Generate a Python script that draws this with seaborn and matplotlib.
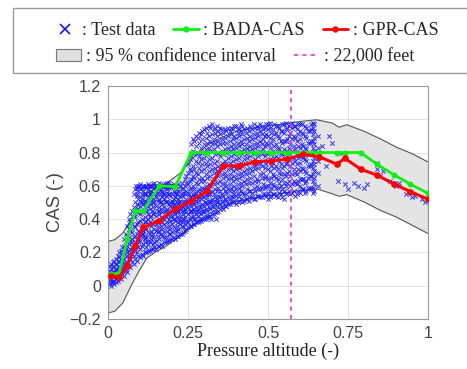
import matplotlib
matplotlib.use("Agg")
import matplotlib.pyplot as plt
from matplotlib.lines import Line2D
from matplotlib.patches import Patch, Rectangle
import seaborn as sns

# ---------------------------------------------------------------
# Data
# ---------------------------------------------------------------
alt_x = [0.01, 0.035, 0.06, 0.085, 0.11, 0.16, 0.21, 0.26, 0.31, 0.36, 0.41, 0.46,
         0.51, 0.56, 0.61, 0.66, 0.715, 0.74, 0.79, 0.84, 0.895, 0.945, 1.0]
gpr_cas = [0.06, 0.05, 0.12, 0.24, 0.35, 0.39, 0.46, 0.51, 0.57, 0.72, 0.72, 0.745,
           0.75, 0.76, 0.79, 0.775, 0.73, 0.765, 0.70, 0.665, 0.61, 0.565, 0.52]
bada_cas = [0.07, 0.075, 0.28, 0.45, 0.45, 0.60, 0.595, 0.80, 0.80, 0.80, 0.80, 0.80,
            0.80, 0.80, 0.80, 0.80, 0.80, 0.80, 0.80, 0.73, 0.665, 0.61, 0.555]

band_x = [0.0, 0.02, 0.045, 0.07, 0.095, 0.12, 0.15, 0.18, 0.2, 0.225, 0.25, 0.28,
          0.31, 0.35, 0.4, 0.45, 0.5, 0.55, 0.6, 0.65, 0.7, 0.72, 0.745, 0.8,
          0.85, 0.9, 0.95, 1.0]
band_hi = [0.27, 0.28, 0.32, 0.40, 0.50, 0.56, 0.59, 0.62, 0.645, 0.68, 0.74, 0.80,
           0.85, 0.89, 0.93, 0.95, 0.965, 0.975, 0.99, 1.0, 0.98, 0.955, 0.97, 0.93,
           0.885, 0.835, 0.795, 0.745]
band_lo = [-0.16, -0.15, -0.10, 0.0, 0.09, 0.17, 0.21, 0.24, 0.27, 0.30, 0.34, 0.385,
           0.43, 0.475, 0.51, 0.53, 0.545, 0.56, 0.575, 0.585, 0.555, 0.54, 0.55, 0.505,
           0.455, 0.415, 0.365, 0.315]

feet_22000 = 0.571

# test data, column by column (x position, y values)
col_x = [0.005, 0.015, 0.025, 0.035, 0.045, 0.055, 0.065, 0.075, 0.085, 0.095,
         0.105, 0.115, 0.125, 0.135, 0.145, 0.155, 0.165, 0.175, 0.185, 0.195,
         0.205, 0.215, 0.225, 0.235, 0.245, 0.255, 0.265, 0.275, 0.285, 0.295,
         0.305, 0.315, 0.325, 0.335, 0.345, 0.355, 0.365, 0.375, 0.385, 0.395,
         0.405, 0.415, 0.425, 0.435, 0.445, 0.455, 0.465, 0.475, 0.485, 0.495,
         0.505, 0.515, 0.525, 0.535, 0.545, 0.555, 0.565, 0.575, 0.585, 0.595,
         0.605, 0.615, 0.625, 0.635, 0.645, 0.655]
col_y = [
    [0.01, 0.03, 0.05, 0.07, 0.09, 0.04, 0.12],
    [0.02, 0.06, 0.08, 0.11, 0.03, 0.14, 0.05],
    [0.04, 0.07, 0.10, 0.13, 0.02, 0.16, 0.09],
    [0.05, 0.09, 0.12, 0.17, 0.08, 0.20, 0.14],
    [0.07, 0.11, 0.15, 0.19, 0.23, 0.10, 0.13],
    [0.09, 0.14, 0.18, 0.22, 0.27, 0.12, 0.31],
    [0.12, 0.17, 0.21, 0.25, 0.29, 0.34, 0.19, 0.40],
    [0.14, 0.19, 0.23, 0.28, 0.32, 0.37, 0.26, 0.45],
    [0.16, 0.21, 0.26, 0.30, 0.35, 0.42, 0.50, 0.58, 0.24],
    [0.18, 0.23, 0.28, 0.33, 0.38, 0.46, 0.52, 0.57, 0.60, 0.27],
    [0.19, 0.24, 0.29, 0.34, 0.40, 0.45, 0.50, 0.55, 0.59, 0.31, 0.36],
    [0.20, 0.26, 0.30, 0.35, 0.41, 0.47, 0.51, 0.56, 0.60, 0.28, 0.38],
    [0.21, 0.27, 0.32, 0.37, 0.43, 0.48, 0.53, 0.58, 0.61, 0.25, 0.40],
    [0.22, 0.28, 0.33, 0.36, 0.42, 0.49, 0.54, 0.57, 0.60, 0.30],
    [0.23, 0.29, 0.34, 0.39, 0.44, 0.50, 0.55, 0.59, 0.62, 0.26],
    [0.24, 0.30, 0.35, 0.38, 0.45, 0.51, 0.56, 0.60, 0.32],
    [0.25, 0.31, 0.36, 0.41, 0.46, 0.50, 0.55, 0.58, 0.61],
    [0.26, 0.32, 0.37, 0.40, 0.47, 0.52, 0.55, 0.60, 0.29],
    [0.27, 0.33, 0.38, 0.43, 0.46, 0.51, 0.56, 0.59, 0.62],
    [0.28, 0.34, 0.39, 0.42, 0.48, 0.50, 0.54, 0.60, 0.31],
    [0.29, 0.35, 0.40, 0.44, 0.49, 0.52, 0.57, 0.61],
    [0.30, 0.36, 0.41, 0.45, 0.50, 0.55, 0.58, 0.33],
    [0.31, 0.37, 0.42, 0.46, 0.51, 0.54, 0.60, 0.39],
    [0.32, 0.38, 0.43, 0.47, 0.50, 0.56, 0.59, 0.35],
    [0.34, 0.39, 0.44, 0.48, 0.52, 0.57, 0.62, 0.66],
    [0.36, 0.40, 0.45, 0.49, 0.53, 0.58, 0.63, 0.70, 0.76],
    [0.37, 0.42, 0.46, 0.50, 0.55, 0.60, 0.66, 0.72, 0.81, 0.88],
    [0.38, 0.43, 0.47, 0.51, 0.56, 0.62, 0.68, 0.75, 0.84, 0.90],
    [0.39, 0.44, 0.48, 0.53, 0.58, 0.64, 0.71, 0.78, 0.86, 0.92],
    [0.40, 0.45, 0.49, 0.54, 0.59, 0.65, 0.73, 0.80, 0.88, 0.93],
    [0.41, 0.46, 0.50, 0.55, 0.60, 0.67, 0.74, 0.82, 0.89, 0.95],
    [0.42, 0.47, 0.51, 0.56, 0.61, 0.69, 0.76, 0.83, 0.90, 0.96],
    [0.43, 0.48, 0.52, 0.57, 0.63, 0.70, 0.77, 0.85, 0.91, 0.97],
    [0.44, 0.49, 0.53, 0.58, 0.64, 0.71, 0.79, 0.86, 0.92, 0.95],
    [0.45, 0.50, 0.54, 0.59, 0.66, 0.72, 0.80, 0.87, 0.93],
    [0.47, 0.51, 0.55, 0.61, 0.67, 0.74, 0.81, 0.88, 0.94],
    [0.48, 0.52, 0.57, 0.62, 0.68, 0.75, 0.82, 0.89, 0.94],
    [0.49, 0.53, 0.58, 0.64, 0.70, 0.77, 0.83, 0.90, 0.95],
    [0.50, 0.54, 0.59, 0.65, 0.71, 0.78, 0.84, 0.91, 0.95],
    [0.51, 0.55, 0.60, 0.66, 0.72, 0.79, 0.85, 0.90, 0.96],
    [0.50, 0.56, 0.61, 0.67, 0.73, 0.80, 0.86, 0.92, 0.95],
    [0.52, 0.57, 0.62, 0.68, 0.74, 0.81, 0.87, 0.93, 0.97],
    [0.51, 0.55, 0.63, 0.69, 0.76, 0.82, 0.88, 0.94],
    [0.52, 0.58, 0.64, 0.70, 0.77, 0.83, 0.89, 0.95],
    [0.53, 0.57, 0.65, 0.71, 0.78, 0.84, 0.90, 0.96],
    [0.52, 0.59, 0.66, 0.72, 0.79, 0.85, 0.91, 0.97],
    [0.54, 0.60, 0.64, 0.73, 0.80, 0.86, 0.92, 0.96],
    [0.53, 0.58, 0.67, 0.74, 0.81, 0.87, 0.93, 0.97],
    [0.55, 0.61, 0.68, 0.75, 0.82, 0.88, 0.94],
    [0.54, 0.60, 0.66, 0.73, 0.80, 0.86, 0.91, 0.97],
    [0.53, 0.57, 0.62, 0.69, 0.76, 0.83, 0.89, 0.95, 0.98],
    [0.55, 0.61, 0.67, 0.74, 0.81, 0.88, 0.94],
    [0.54, 0.59, 0.65, 0.72, 0.78, 0.85, 0.92, 0.96],
    [0.56, 0.62, 0.68, 0.75, 0.82, 0.89, 0.95],
    [0.53, 0.58, 0.64, 0.71, 0.79, 0.86, 0.93, 0.97],
    [0.55, 0.60, 0.66, 0.73, 0.80, 0.87, 0.94, 0.98],
    [0.57, 0.63, 0.69, 0.76, 0.83, 0.90, 0.96],
    [0.56, 0.61, 0.67, 0.74, 0.81, 0.88, 0.95, 0.98],
    [0.54, 0.62, 0.68, 0.75, 0.82, 0.89, 0.96],
    [0.57, 0.63, 0.70, 0.77, 0.84, 0.91, 0.97],
    [0.58, 0.64, 0.71, 0.78, 0.85, 0.92, 0.97],
    [0.56, 0.62, 0.69, 0.76, 0.83, 0.90, 0.96],
    [0.59, 0.65, 0.72, 0.79, 0.86, 0.93],
    [0.58, 0.66, 0.73, 0.80, 0.87, 0.94, 0.97],
    [0.57, 0.61, 0.65, 0.69, 0.73, 0.77, 0.81, 0.85, 0.89, 0.93, 0.97],
    [0.60, 0.68, 0.75, 0.83, 0.90],
]
# second pass of columns, between the first ones
col2_x = [0.01, 0.02, 0.03, 0.04, 0.05, 0.06, 0.07, 0.08, 0.09, 0.10, 0.11, 0.12,
          0.13, 0.14, 0.15, 0.16, 0.17, 0.18, 0.19, 0.20, 0.21, 0.22, 0.23, 0.24,
          0.25, 0.26, 0.27, 0.28, 0.29, 0.30, 0.31, 0.32, 0.33, 0.34, 0.35, 0.36,
          0.37, 0.38, 0.39, 0.40, 0.41, 0.42, 0.43, 0.44, 0.45, 0.46, 0.47, 0.48,
          0.49, 0.50, 0.51, 0.52, 0.53, 0.54, 0.55, 0.56, 0.57, 0.58, 0.59, 0.60,
          0.61, 0.62, 0.63, 0.64]
col2_y = [
    [0.00, 0.02, 0.06, 0.10, 0.13],
    [0.01, 0.05, 0.08, 0.12, 0.15],
    [0.03, 0.06, 0.11, 0.15, 0.18],
    [0.04, 0.08, 0.13, 0.16, 0.21],
    [0.06, 0.10, 0.16, 0.20, 0.24, 0.28],
    [0.08, 0.13, 0.20, 0.24, 0.30, 0.36],
    [0.11, 0.16, 0.22, 0.27, 0.33, 0.38, 0.43],
    [0.13, 0.18, 0.24, 0.29, 0.36, 0.41, 0.47, 0.55],
    [0.15, 0.20, 0.25, 0.31, 0.37, 0.44, 0.49, 0.54, 0.59],
    [0.17, 0.22, 0.27, 0.32, 0.39, 0.43, 0.48, 0.53, 0.58, 0.61],
    [0.18, 0.25, 0.31, 0.33, 0.37, 0.44, 0.49, 0.52, 0.57, 0.60],
    [0.20, 0.23, 0.29, 0.34, 0.39, 0.45, 0.50, 0.55, 0.59],
    [0.21, 0.26, 0.31, 0.38, 0.41, 0.46, 0.51, 0.56, 0.60],
    [0.22, 0.25, 0.31, 0.37, 0.43, 0.47, 0.52, 0.56, 0.61],
    [0.22, 0.27, 0.33, 0.37, 0.42, 0.48, 0.53, 0.57, 0.60],
    [0.24, 0.28, 0.33, 0.39, 0.43, 0.47, 0.52, 0.58, 0.62],
    [0.24, 0.30, 0.34, 0.38, 0.44, 0.49, 0.53, 0.57, 0.60],
    [0.26, 0.29, 0.35, 0.41, 0.45, 0.50, 0.54, 0.58, 0.61],
    [0.27, 0.31, 0.36, 0.40, 0.44, 0.49, 0.55, 0.59, 0.62],
    [0.28, 0.32, 0.37, 0.42, 0.47, 0.51, 0.55, 0.60],
    [0.28, 0.33, 0.39, 0.43, 0.48, 0.53, 0.56, 0.60],
    [0.30, 0.34, 0.38, 0.44, 0.49, 0.52, 0.57, 0.61],
    [0.31, 0.36, 0.40, 0.45, 0.48, 0.54, 0.58, 0.62],
    [0.33, 0.37, 0.41, 0.46, 0.50, 0.55, 0.60, 0.64],
    [0.35, 0.38, 0.43, 0.47, 0.51, 0.56, 0.61, 0.68, 0.73],
    [0.36, 0.41, 0.44, 0.48, 0.53, 0.59, 0.64, 0.69, 0.78, 0.85],
    [0.37, 0.40, 0.45, 0.49, 0.54, 0.58, 0.65, 0.70, 0.79, 0.87],
    [0.38, 0.42, 0.46, 0.52, 0.57, 0.61, 0.67, 0.74, 0.80, 0.89],
    [0.39, 0.43, 0.47, 0.52, 0.57, 0.63, 0.69, 0.76, 0.83, 0.91],
    [0.40, 0.44, 0.48, 0.53, 0.58, 0.63, 0.70, 0.77, 0.85, 0.94],
    [0.41, 0.45, 0.49, 0.53, 0.58, 0.65, 0.72, 0.79, 0.86, 0.92],
    [0.42, 0.46, 0.50, 0.55, 0.60, 0.66, 0.73, 0.81, 0.87, 0.95],
    [0.43, 0.47, 0.51, 0.55, 0.61, 0.68, 0.74, 0.82, 0.88, 0.94],
    [0.44, 0.48, 0.52, 0.57, 0.62, 0.69, 0.75, 0.84, 0.90, 0.96],
    [0.46, 0.49, 0.53, 0.57, 0.63, 0.70, 0.78, 0.85, 0.91, 0.95],
    [0.46, 0.50, 0.54, 0.59, 0.65, 0.71, 0.79, 0.86, 0.92],
    [0.48, 0.51, 0.56, 0.60, 0.66, 0.73, 0.80, 0.86, 0.93],
    [0.49, 0.52, 0.57, 0.61, 0.67, 0.74, 0.81, 0.87, 0.93],
    [0.50, 0.53, 0.57, 0.63, 0.69, 0.75, 0.82, 0.88, 0.94],
    [0.49, 0.54, 0.58, 0.64, 0.70, 0.76, 0.83, 0.89, 0.96],
    [0.51, 0.54, 0.59, 0.65, 0.71, 0.77, 0.84, 0.90, 0.94],
    [0.50, 0.56, 0.60, 0.66, 0.72, 0.79, 0.85, 0.91, 0.96],
    [0.52, 0.55, 0.61, 0.67, 0.73, 0.79, 0.85, 0.92],
    [0.51, 0.57, 0.62, 0.68, 0.74, 0.81, 0.87, 0.93],
    [0.53, 0.56, 0.62, 0.69, 0.75, 0.82, 0.88, 0.94],
    [0.52, 0.57, 0.63, 0.70, 0.76, 0.83, 0.89, 0.95],
    [0.54, 0.58, 0.63, 0.71, 0.78, 0.84, 0.90, 0.95],
    [0.53, 0.59, 0.65, 0.72, 0.79, 0.85, 0.91, 0.96],
    [0.55, 0.59, 0.65, 0.71, 0.78, 0.84, 0.90, 0.95],
    [0.52, 0.56, 0.60, 0.64, 0.70, 0.75, 0.80, 0.85, 0.90, 0.94, 0.97],
    [0.54, 0.59, 0.65, 0.72, 0.79, 0.86, 0.92],
    [0.55, 0.60, 0.66, 0.71, 0.77, 0.84, 0.91, 0.97],
    [0.53, 0.59, 0.64, 0.70, 0.77, 0.83, 0.90, 0.96],
    [0.55, 0.60, 0.67, 0.73, 0.80, 0.87, 0.93],
    [0.52, 0.57, 0.62, 0.67, 0.72, 0.77, 0.82, 0.87, 0.92, 0.97],
    [0.56, 0.62, 0.68, 0.74, 0.81, 0.88, 0.95],
    [0.55, 0.60, 0.66, 0.72, 0.79, 0.85, 0.92, 0.97],
    [0.57, 0.63, 0.70, 0.77, 0.84, 0.90, 0.96],
    [0.55, 0.61, 0.67, 0.73, 0.80, 0.87, 0.94],
    [0.56, 0.60, 0.64, 0.69, 0.74, 0.78, 0.83, 0.88, 0.93, 0.97],
    [0.58, 0.64, 0.70, 0.77, 0.84, 0.91],
    [0.57, 0.63, 0.68, 0.75, 0.82, 0.89, 0.95],
    [0.59, 0.66, 0.72, 0.79, 0.86, 0.93],
    [0.56, 0.59, 0.63, 0.67, 0.71, 0.75, 0.79, 0.83, 0.87, 0.91, 0.95, 0.98],
]
# horizontal streaks of test data in the climb region
row_y = [0.60, 0.55, 0.50, 0.45, 0.40]
row_x = [
    [0.088, 0.098, 0.108, 0.118, 0.128, 0.138, 0.148, 0.158, 0.172, 0.182, 0.192, 0.202, 0.212],
    [0.092, 0.112, 0.132, 0.152, 0.172, 0.192, 0.212, 0.232, 0.252, 0.272, 0.292, 0.312],
    [0.102, 0.122, 0.142, 0.162, 0.182, 0.202, 0.222, 0.242, 0.262, 0.282, 0.302, 0.322, 0.342],
    [0.118, 0.138, 0.158, 0.178, 0.198, 0.218, 0.238, 0.258, 0.278, 0.298],
    [0.205, 0.222, 0.238, 0.255, 0.272, 0.288, 0.305, 0.322, 0.338],
]
# sparse test points at high altitude
sparse_x = [0.67, 0.68, 0.69, 0.70, 0.72, 0.74, 0.75, 0.77, 0.78, 0.80, 0.81, 0.84,
            0.84, 0.85, 0.86, 0.88, 0.90, 0.91, 0.93, 0.95, 0.96, 0.98, 0.99, 0.73]
sparse_y = [0.84, 0.72, 0.90, 0.86, 0.63, 0.61, 0.58, 0.62, 0.60, 0.59, 0.61, 0.74,
            0.70, 0.66, 0.69, 0.63, 0.60, 0.62, 0.55, 0.53, 0.54, 0.52, 0.50, 0.80]

test_x = ([x for x, ys in zip(col_x, col_y) for _ in ys]
          + [x for x, ys in zip(col2_x, col2_y) for _ in ys]
          + [x for xs in row_x for x in xs] + sparse_x)
test_y = ([y for ys in col_y for y in ys]
          + [y for ys in col2_y for y in ys]
          + [y for y, xs in zip(row_y, row_x) for _ in xs] + sparse_y)

# ---------------------------------------------------------------
# Plot
# ---------------------------------------------------------------
sns.set_style("white")
SANS = ["Liberation Sans", "DejaVu Sans"]
SERIF = ["Liberation Serif", "DejaVu Serif"]

fig = plt.figure(figsize=(4.67, 3.69), dpi=100)
ax = fig.add_axes([0.2313, 0.1355, 0.6852, 0.6315])

ax.fill_between(band_x, band_lo, band_hi, facecolor="#e4e4e4",
                edgecolor="#555555", linewidth=0.8, zorder=1)
sns.scatterplot(x=test_x, y=test_y, marker="x", color="#1515ff", s=10,
                linewidth=0.7, alpha=0.85, ax=ax, zorder=2, legend=False)
ax.axvline(feet_22000, color="#ee33cc", linestyle=(0, (2.5, 2.5)),
           linewidth=1.2, zorder=3)
sns.lineplot(x=alt_x, y=bada_cas, color="#11ee11", linewidth=2, marker="o",
             markersize=3.5, markeredgecolor="#11ee11", ax=ax, zorder=4)
sns.lineplot(x=alt_x, y=gpr_cas, color="#ff0000", linewidth=2.2, marker="o",
             markersize=4, markeredgecolor="#ff0000", ax=ax, zorder=5)

ax.set_xlim(0, 1)
ax.set_ylim(-0.2, 1.2)
ax.set_xticks([0, 0.25, 0.5, 0.75, 1])
ax.set_xticklabels(["0", "0.25", "0.5", "0.75", "1"])
ax.set_yticks([-0.2, 0, 0.2, 0.4, 0.6, 0.8, 1.0, 1.2])
ax.set_yticklabels(["\u22120.2", "0", "0.2", "0.4", "0.6", "0.8", "1", "1.2"])
for lab in ax.get_xticklabels() + ax.get_yticklabels():
    lab.set_family(SANS)
    lab.set_fontsize(11.5)
    lab.set_color("#444444")
ax.tick_params(direction="in", length=3, color="#888888", pad=5)
ax.grid(True, color="#dddddd", linewidth=0.6, zorder=0)
ax.set_axisbelow(True)
for sp in ax.spines.values():
    sp.set_color("#999999")
    sp.set_linewidth(0.8)

ax.set_xlabel("Pressure altitude (-)", family=SERIF, fontsize=13, color="#222222",
              labelpad=1)
ax.set_ylabel("CAS (-)", family=SANS, fontsize=13, color="#444444", labelpad=4)

# legend box across the top
fig.add_artist(Rectangle((0.028, 0.802), 0.975, 0.176, transform=fig.transFigure,
                         facecolor="white", edgecolor="#999999", linewidth=1))
row1 = [
    Line2D([], [], marker="x", color="#1515ff", linestyle="none", markersize=7,
           markeredgewidth=1.2),
    Line2D([], [], color="#11ee11", linewidth=2, marker="o", markersize=3.5),
    Line2D([], [], color="#ff0000", linewidth=2, marker="o", markersize=3.5),
]
row2 = [
    Patch(facecolor="#e0e0e0", edgecolor="#777777", linewidth=0.8),
    Line2D([], [], color="#ee33cc", linestyle=(0, (2.5, 2.5)), linewidth=1.2),
]
leg_kw = dict(frameon=False, prop={"family": SERIF, "size": 13},
              handlelength=1.4, handletextpad=0.25, columnspacing=1.0,
              borderaxespad=0, borderpad=0)
leg1 = fig.legend(row1, [": Test data", ": BADA-CAS", ": GPR-CAS"], ncol=3,
                  loc="center", bbox_to_anchor=(0.525, 0.916), **leg_kw)
leg2 = fig.legend(row2, [": 95 % confidence interval", ": 22,000 feet"], ncol=2,
                  loc="center", bbox_to_anchor=(0.503, 0.846), **leg_kw)

fig.savefig("out.png", dpi=100)
